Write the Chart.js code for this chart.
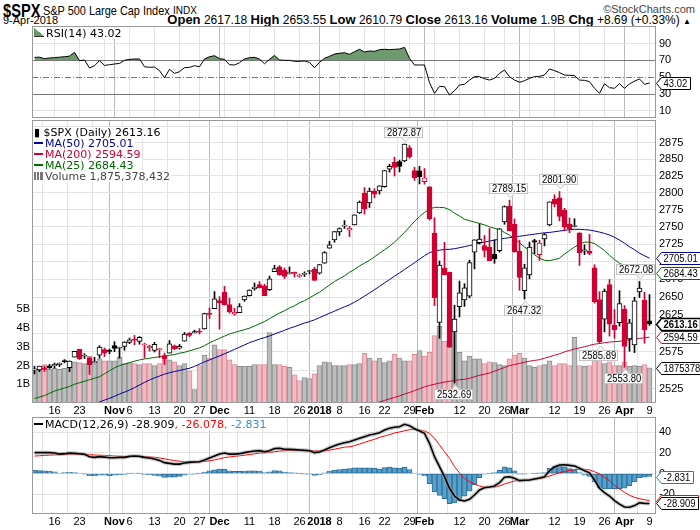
<!DOCTYPE html>
<html><head><meta charset="utf-8">
<script src="https://cdn.jsdelivr.net/npm/chart.js@4.4.1/dist/chart.umd.min.js"></script>
<style>
html,body{margin:0;padding:0;background:#fff;}
body{width:700px;height:530px;position:relative;overflow:hidden;font-family:"Liberation Sans",Arial,sans-serif;color:#000;}
.abs{position:absolute;white-space:nowrap;}
.leg{position:absolute;white-space:nowrap;font-family:"DejaVu Sans",Verdana,sans-serif;font-size:11px;line-height:11px;background:#fff;padding-right:1px;}
canvas{position:absolute;left:0;}
.dash{display:inline-block;width:9px;height:2px;vertical-align:middle;margin-right:2px;position:relative;top:-1px;}
</style></head>
<body>
<div class="abs" style="left:3px;top:0px;font:bold 19px 'Liberation Sans',Arial,sans-serif;transform:scaleX(0.77);transform-origin:left top;">$SPX</div>
<div class="abs" style="left:43px;top:3px;font-size:13px;transform:scaleX(0.84);transform-origin:left top;">S&amp;P 500 Large Cap Index</div>
<div class="abs" style="left:173px;top:5px;font-size:10px;">INDX</div>
<div class="abs" style="right:5px;top:3px;font-size:11px;color:#444;">©StockCharts.com</div>
<div class="abs" style="left:3px;top:14px;font-size:11px;">9-Apr-2018</div>
<div class="abs" style="right:9px;top:12px;font-size:12px;"><b style="font-size:13px">Open</b> 2617.18 <b style="font-size:13px">High</b> 2653.55 <b style="font-size:13px">Low</b> 2610.79 <b style="font-size:13px">Close</b> 2613.16 <b style="font-size:13px">Volume</b> 1.9B <b style="font-size:13px">Chg</b> +8.69 (+0.33%) <span style="font-size:8px">▲</span></div>

<canvas id="rsiC" width="700" height="96" style="top:24px"></canvas>
<canvas id="pxC" width="700" height="302" style="top:118px"></canvas>
<canvas id="mdC" width="700" height="115" style="top:415px"></canvas>

<div class="leg" style="left:34px;top:28px;"><span style="display:inline-block;width:10px;height:8px;background:linear-gradient(to top right,#6a9a6a 50%,transparent 51%);border-bottom:1px solid #333;margin-right:2px"></span>RSI(14) 43.02</div>

<div class="leg" style="left:34px;top:127px;">▮ $SPX (Daily) 2613.16</div>
<div class="leg" style="left:34px;top:138px;color:#000099"><span class="dash" style="background:#000099"></span>MA(50) 2705.01</div>
<div class="leg" style="left:34px;top:149px;color:#cc0033"><span class="dash" style="background:#cc0033"></span>MA(200) 2594.59</div>
<div class="leg" style="left:34px;top:160px;color:#006600"><span class="dash" style="background:#006600"></span>MA(25) 2684.43</div>
<div class="leg" style="left:34px;top:171px;color:#444"><span style="display:inline-block;width:9px;height:8px;background:linear-gradient(to right,#777 0 2px,transparent 2px 3px,#777 3px 5px,transparent 5px 6px,#777 6px 8px);margin-right:2px"></span>Volume 1,875,378,432</div>

<div class="leg" style="left:34px;top:419px;"><span class="dash" style="background:#000"></span>MACD(12,26,9) -28.909<span style="color:#ff0000">, -26.078</span><span style="color:#3a8fc8">, -2.831</span></div>

<script>
// ---------- DATA ----------
const prevClose0 = 2544.73;
const open = [2550.20,2550.34,2552.88,2555.66,2555.57,2557.17,2562.87,2553.39,2567.56,2578.08,
2568.66,2566.52,2560.08,2570.26,2577.75,2575.99,2583.21,2579.46,2581.93,2587.47,
2592.11,2588.71,2584.00,2580.18,2576.53,2577.75,2569.45,2572.95,2582.94,2579.49,
2589.17,2600.31,2600.42,2602.66,2605.94,2627.82,2633.93,2645.10,2657.19,2639.78,
2626.24,2628.38,2646.21,2652.19,2661.73,2667.59,2665.87,2660.63,2685.92,2692.71,
2688.18,2683.02,2684.22,2679.09,2682.10,2686.10,2689.15,2683.73,2697.85,2719.31,
2731.33,2742.67,2751.15,2745.55,2752.97,2770.18,2798.96,2784.99,2802.40,2802.60,
2809.16,2835.05,2845.42,2846.24,2847.48,2867.23,2832.74,2832.41,2816.45,2808.92,
2741.06,2614.78,2690.95,2685.01,2601.78,2636.75,2646.27,2651.21,2713.46,2727.14,
2722.99,2720.53,2710.42,2715.80,2757.37,2780.45,2753.78,2715.22,2658.89,2681.06,
2730.18,2710.18,2732.75,2752.91,2790.54,2792.31,2774.06,2754.27,2750.57,2741.38,
2715.05,2714.99,2691.36,2646.71,2619.35,2667.57,2611.30,2614.41,2633.45,2592.17,
2584.04,2657.36,2645.82,2617.18];
const high = [2555.20,2555.24,2555.33,2557.65,2559.47,2559.71,2564.11,2562.36,2575.44,2578.29,
2572.18,2567.40,2567.07,2582.98,2580.03,2578.29,2588.40,2581.11,2588.42,2593.38,
2597.02,2595.47,2586.50,2583.81,2587.66,2579.66,2572.84,2590.09,2583.96,2584.64,
2601.19,2600.94,2604.21,2606.41,2627.69,2634.89,2657.74,2650.62,2665.19,2648.72,
2634.41,2640.99,2651.65,2660.33,2669.72,2671.88,2668.09,2679.63,2694.97,2694.44,
2691.01,2692.64,2685.35,2682.74,2685.64,2687.66,2692.12,2695.89,2714.37,2729.29,
2743.45,2748.51,2759.14,2750.80,2767.56,2787.85,2807.54,2807.04,2805.83,2810.33,
2833.03,2842.24,2852.97,2848.56,2872.87,2870.62,2837.75,2839.26,2835.96,2808.92,
2763.39,2701.04,2727.67,2685.27,2638.67,2672.61,2668.84,2702.10,2731.51,2754.42,
2737.60,2747.75,2731.26,2747.76,2780.64,2789.15,2761.52,2730.89,2696.25,2728.09,
2732.08,2730.60,2740.45,2786.57,2796.98,2801.90,2777.11,2763.03,2761.85,2741.38,
2724.22,2739.14,2695.68,2657.67,2661.36,2674.78,2632.65,2659.07,2638.30,2619.14,
2649.86,2672.08,2656.88,2653.55];
const low = [2544.86,2547.95,2548.31,2552.09,2552.64,2554.69,2559.67,2547.92,2567.56,2564.33,
2565.58,2544.00,2559.80,2565.94,2568.25,2572.15,2574.92,2566.17,2576.77,2585.66,
2584.35,2585.02,2566.33,2575.57,2574.48,2566.56,2557.45,2572.95,2577.62,2578.24,
2589.17,2595.23,2600.42,2598.87,2605.44,2620.32,2633.93,2605.52,2639.03,2627.73,
2624.75,2628.38,2644.10,2651.47,2659.78,2662.85,2652.01,2659.14,2685.92,2680.74,
2676.11,2682.40,2678.13,2677.96,2678.91,2682.69,2673.61,2682.36,2697.77,2719.07,
2727.92,2737.60,2747.86,2736.06,2752.78,2769.64,2768.64,2778.38,2792.56,2798.08,
2808.12,2830.59,2824.81,2830.94,2846.18,2851.48,2818.27,2813.04,2812.70,2759.97,
2638.17,2593.07,2681.33,2580.56,2532.69,2622.45,2637.08,2648.87,2689.82,2725.11,
2706.76,2701.29,2697.77,2713.74,2753.78,2744.22,2713.54,2659.65,2647.32,2675.75,
2711.26,2701.74,2722.65,2751.54,2779.26,2758.68,2744.38,2741.47,2749.97,2694.59,
2710.05,2709.79,2641.59,2585.89,2601.81,2596.12,2593.06,2609.72,2553.80,2575.49,
2573.61,2649.58,2586.27,2610.79];
const close = [2550.64,2555.24,2550.93,2553.17,2557.64,2559.36,2561.26,2562.10,2575.21,2564.98,
2569.13,2557.15,2560.40,2581.07,2572.83,2575.26,2579.36,2579.85,2587.84,2591.13,
2590.64,2594.38,2584.62,2582.30,2584.84,2578.87,2564.62,2585.64,2578.85,2582.14,
2599.03,2597.08,2602.42,2601.42,2627.04,2626.07,2647.58,2642.22,2639.44,2629.57,
2629.27,2636.98,2651.50,2659.99,2664.11,2662.85,2652.01,2675.81,2690.16,2681.47,
2679.25,2684.57,2683.34,2680.50,2682.62,2687.54,2673.61,2695.81,2713.06,2723.99,
2743.15,2747.71,2751.29,2748.23,2767.56,2786.24,2776.42,2802.56,2798.03,2810.30,
2832.97,2839.13,2837.54,2839.25,2872.87,2853.53,2822.43,2823.81,2821.98,2762.13,
2648.94,2695.14,2681.66,2581.00,2619.55,2656.00,2662.94,2698.63,2731.20,2732.22,
2716.26,2701.33,2703.96,2747.30,2779.60,2744.28,2713.83,2677.67,2691.25,2720.94,
2728.12,2726.80,2738.97,2786.57,2783.02,2765.31,2749.48,2747.33,2752.01,2712.92,
2716.94,2711.93,2643.69,2588.26,2658.55,2612.62,2605.00,2640.87,2581.88,2614.45,
2644.69,2662.84,2604.47,2613.16];
const volume = [1.80e9,1.75e9,2.05e9,1.80e9,1.85e9,1.80e9,1.85e9,1.90e9,2.20e9,2.15e9,
2.10e9,2.50e9,2.10e9,2.35e9,2.25e9,2.25e9,2.25e9,2.45e9,2.10e9,2.15e9,
2.10e9,2.05e9,2.10e9,2.10e9,2.00e9,2.10e9,2.30e9,2.30e9,2.20e9,2.00e9,
2.10e9,1.70e9,0.72e9,2.00e9,2.55e9,2.40e9,3.10e9,2.85e9,2.85e9,2.30e9,
2.05e9,1.95e9,1.95e9,1.95e9,2.05e9,2.05e9,2.05e9,3.75e9,2.05e9,2.05e9,
1.95e9,1.90e9,1.50e9,1.20e9,1.35e9,1.30e9,1.55e9,2.00e9,2.20e9,2.15e9,
2.00e9,2.00e9,2.00e9,2.05e9,2.05e9,2.10e9,2.65e9,2.40e9,2.25e9,2.40e9,
2.15e9,2.25e9,2.60e9,2.40e9,2.25e9,2.25e9,2.60e9,2.80e9,2.50e9,2.70e9,
3.60e9,4.10e9,3.30e9,3.30e9,3.90e9,2.70e9,2.25e9,2.50e9,2.35e9,2.35e9,
2.10e9,2.20e9,2.15e9,2.05e9,2.00e9,2.35e9,2.55e9,2.65e9,2.40e9,2.00e9,
1.90e9,2.00e9,2.05e9,2.25e9,2.00e9,2.10e9,2.10e9,2.00e9,3.50e9,2.00e9,
1.95e9,2.00e9,2.40e9,2.30e9,2.10e9,2.20e9,2.00e9,2.00e9,2.20e9,1.95e9,
2.00e9,1.95e9,2.05e9,1875378432];
const ma50 = [null,null,null,null,null,null,null,null,null,null,
2500,2503,2505,2507.5,2510,2512.3,2515,2518,2520.5,2523.3,
2526.5,2530,2533.5,2536.7,2539.5,2542,2544.5,2546.5,2548,2549.5,
2551,2552.4,2555,2558,2561,2563.7,2566.5,2569,2572,2574.9,
2578,2581,2584,2587.2,2589.5,2592,2594,2596.3,2599,2601.5,
2604,2606.8,2609,2611.5,2614,2616,2618.5,2621.5,2624.5,2627.6,
2630.5,2633.5,2636.5,2639.3,2643,2647,2651.5,2655.8,2660.5,2665,
2670,2674.6,2679.5,2684,2689,2693.6,2698.5,2703.5,2708.5,2712.9,
2715,2716.5,2717.5,2717.7,2718.5,2720,2721.5,2723,2724.9,2726.5,
2728,2729.5,2731,2732.2,2733.5,2734.5,2735.5,2736.5,2737.5,2738.5,
2739.5,2740.5,2741.5,2742,2743,2744,2745,2746,2746.5,2746.5,
2746,2745.5,2744,2742.5,2740.5,2738.3,2735,2731,2726.5,2721.4,
2717,2712.1,2708.5,2705.01];
const ma200 = [null,null,null,null,null,null,null,null,null,null,
null,null,null,null,null,null,null,null,null,null,
null,null,null,null,null,null,null,null,null,null,
null,null,null,null,null,null,null,null,null,null,
null,null,null,null,null,null,null,null,null,null,
null,null,null,null,null,null,null,null,null,null,
null,null,null,null,null,null,null,2503,2505.5,2507.5,
2509.5,2511.5,2513.5,2515.5,2518,2520,2522.5,2525,2527.5,2529.5,
2531,2532.5,2534,2535,2536,2537,2537.6,2539,2541,2543,
2544.5,2546,2548.5,2551,2553.5,2556,2557.5,2559,2560.5,2562,
2563,2564,2566,2568,2570,2572,2574.5,2576.5,2578.5,2580,
2581.5,2583.5,2585,2586,2587,2588,2588.5,2589,2590,2591,
2592,2593,2593.8,2594.59];
const ma25 = [2512,2514,2516,2519,2522,2524,2526,2528,2531,2533,
2535,2537,2539,2541,2545,2549,2553,2556,2558,2560,
2562,2563.7,2565,2566,2567,2568,2569,2570,2571,2572.8,
2574,2576,2578,2580,2583,2587,2590,2593,2596,2599,
2601,2603,2605,2607,2610,2613,2616,2620,2624,2628,
2631,2635,2638,2642,2645,2649,2653,2657,2662,2667,
2672,2676,2680,2685,2689,2694,2698,2702,2707,2712,
2717,2722,2728,2735,2742,2750,2758,2765,2771,2776,
2778.5,2778.5,2778,2775,2770,2766,2761,2759,2757,2755,
2753,2750,2748,2746,2742,2738,2733,2727,2721,2716,
2710,2705,2702,2701.5,2703,2705,2711,2716,2721,2725,
2728,2728,2726,2721,2716,2709,2703,2698,2694,2691,
2688,2686,2685,2684.43];
const rsi = [73.5,73.8,72.0,72.8,73.2,73.8,74.3,75.0,79.5,69.6,
70.4,60.9,63.6,69.6,64.0,64.8,65.6,66.4,70.0,71.2,
71.6,71.6,62.4,61.7,62.0,57.7,49.4,59.3,54.5,56.5,
61.3,61.7,63.6,62.4,71.6,74.3,75.5,72.0,71.2,64.8,
64.5,67.2,71.6,73.2,73.6,71.6,66.0,71.2,75.9,70.4,
70.0,70.0,68.8,68.8,69.2,67.6,61.3,67.6,72.4,74.7,
77.5,78.3,79.1,77.1,80.3,83.1,79.9,81.1,80.7,82.7,
83.1,82.7,83.1,83.5,85.4,72.4,64.5,64.5,64.5,43.5,
30.8,39.0,38.7,28.8,33.9,40.7,41.5,46.6,50.6,50.6,
48.2,46.6,48.6,54.5,58.5,50.6,46.6,43.9,45.8,48.6,
50.6,51.0,52.6,59.7,57.7,55.4,52.6,52.2,51.8,46.6,
46.2,44.7,36.8,30.8,42.3,37.5,36.8,42.3,36.8,41.9,
45.4,47.8,41.5,43.02];
const macd = [20.3,20.3,20.3,20.3,19.9,18.9,19.3,19.9,19.6,19.3,
18.6,16.4,15.7,16.4,16.0,15.4,15.4,15.7,15.7,16.7,
17.0,16.7,15.7,15.1,14.1,12.8,10.6,9.9,9.2,9.2,
10.2,10.9,11.2,11.5,13.2,15.1,17.0,18.9,19.9,18.9,
18.9,19.3,20.3,21.2,21.9,22.2,21.2,22.2,24.2,24.5,
23.5,23.5,23.2,22.9,22.5,22.2,20.3,20.9,22.9,25.1,
27.0,28.6,29.9,30.9,32.5,34.2,35.7,37.4,38.4,39.6,
42.2,43.9,44.8,45.4,47.7,46.4,43.5,41.3,39.0,29.3,
16.4,6.7,-3.0,-14.2,-21.7,-25.5,-26.5,-24.9,-20.7,-15.9,
-13.6,-13.0,-12.0,-8.8,-3.6,-3.0,-4.6,-6.8,-6.5,-6.2,
-5.2,-4.2,-3.0,2.8,6.4,8.3,8.6,8.0,7.4,5.1,
2.8,0.8,-6.2,-14.2,-18.4,-21.7,-26.2,-29.5,-32.3,-32.6,
-31.0,-28.2,-28.8,-28.909];
const signal = [17.0,17.3,17.6,17.9,18.1,18.3,18.4,18.6,18.7,18.8,
18.9,18.4,18.0,17.8,17.6,17.4,17.0,16.8,16.6,16.6,
16.6,16.6,16.4,16.2,15.8,15.2,14.3,13.4,12.6,12.0,
11.6,11.5,11.4,11.4,11.8,12.4,13.3,14.4,15.5,16.1,
16.7,17.2,17.8,18.5,19.2,19.8,20.1,20.5,21.2,21.8,
22.1,22.4,22.5,22.6,22.6,22.5,22.1,21.9,22.1,22.7,
23.6,24.6,25.6,26.0,27.0,28.6,30.2,31.8,33.2,35.1,
36.4,37.7,39.3,40.3,41.5,42.5,42.9,42.2,41.3,39.0,
34.2,27.7,21.2,14.8,6.7,0.8,-4.6,-7.8,-10.1,-12.0,
-13.0,-13.3,-13.0,-12.0,-10.1,-8.5,-7.2,-6.5,-6.2,-6.2,
-5.5,-4.9,-3.9,-2.3,-0.7,0.8,2.1,3.1,3.8,4.2,
4.2,3.5,1.8,-0.4,-3.6,-6.8,-11.5,-14.8,-18.2,-21.0,
-23.0,-24.3,-25.3,-26.078];
const hist = [3.3,3.0,2.7,2.4,1.8,0.6,0.9,1.3,0.9,0.5,
-0.3,-2.0,-2.3,-1.4,-1.6,-2.0,-1.6,-1.1,-0.9,0.1,
0.4,0.1,-0.7,-1.1,-1.7,-2.4,-3.7,-3.5,-3.4,-2.8,
-1.4,-0.6,-0.2,0.1,1.4,2.7,3.7,4.5,4.4,2.8,
2.2,2.1,2.5,2.7,2.7,2.4,1.1,1.7,3.0,2.7,
1.4,1.1,0.7,0.3,-0.1,-0.3,-1.8,-1.0,0.8,2.4,
3.4,4.0,4.3,4.9,5.5,5.6,5.5,5.6,5.2,4.5,
5.8,6.2,5.5,5.1,6.2,3.9,0.6,-0.9,-2.3,-9.7,
-17.8,-21.0,-24.2,-29.0,-28.4,-26.3,-21.9,-17.1,-10.6,-3.9,
-0.6,0.3,1.0,3.2,6.5,5.5,2.6,-0.3,-0.3,0.0,
0.3,0.7,0.9,5.1,7.1,7.5,6.5,4.9,3.6,0.9,
-1.4,-2.7,-8.0,-13.8,-14.8,-14.9,-14.7,-14.7,-14.1,-11.6,
-8.0,-3.9,-3.5,-2.831];
// x-axis ticks (bar index) and their labels
const tickIdx = [4,9,14,16,19,24,29,33,37,38,43,48,53,57,61,66,70,75,78,80,85,90,94,97,99,104,109,114,118,123];
const tickLbl = ['16','23','','Nov','6','13','20','27','Dec','','11','18','26','2018','8','16','22','29','Feb','','12','20','26','Mar','','12','19','26','Apr','9'];
const monthIdx = [16,37,57,78,97,118];
const priceTicks = [2525,2550,2575,2600,2625,2650,2675,2700,2725,2750,2775,2800,2825,2850,2875,2900];
const volTicks = [1e9,2e9,3e9,4e9,5e9];
const rsiTicks = [10,30,50,70,90];
const macdTicks = [-20,0,20,40];
const highNotes = [74,95,105,121];
const lowNotes = [84,98,113,118];

// ---------- STYLE / HELPERS ----------
const SANS = '"Liberation Sans", Arial, sans-serif';
const RED = '#d20032', BLK = '#000';
const N = close.length;
const XMIN = -0.5, XMAX = 124.3;
const monthSet = new Set(monthIdx);
const xy = arr => arr.map((v, i) => ({x: i, y: v}));
const noPad = s => { s.paddingTop = 0; s.paddingBottom = 0; s.paddingLeft = 0; s.paddingRight = 0; };

function xAxis(showLabels, h) {
  return {
    type: 'linear', min: XMIN, max: XMAX, offset: false,
    afterBuildTicks: s => { s.ticks = tickIdx.map(v => ({value: v})); },
    afterFit: s => { s.height = h; noPad(s); },
    ticks: {
      display: showLabels, autoSkip: false, maxRotation: 0, minRotation: 0, padding: 1,
      color: '#000',
      callback: (v, i) => tickLbl[i],
      font: ctx => ({family: SANS, size: 11, weight: (ctx.tick && monthSet.has(ctx.tick.value)) ? 'bold' : 'normal'})
    },
    grid: {
      drawTicks: false, lineWidth: 1,
      color: ctx => (ctx.tick && monthSet.has(ctx.tick.value)) ? '#b9b9b9' : '#e3e3e3'
    },
    border: {display: false}
  };
}
function rightAxis(extra) {
  return Object.assign({
    position: 'right',
    afterFit: s => { s.width = 44; noPad(s); },
    ticks: {padding: 3, color: '#000', font: {family: SANS, size: 11}, autoSkip: false},
    grid: {drawTicks: false, color: '#e3e3e3'},
    border: {display: false}
  }, extra);
}
const framePlugin = {
  id: 'frame',
  afterDraw(chart) {
    const a = chart.chartArea, c = chart.ctx;
    c.save(); c.strokeStyle = '#9a9a9a'; c.lineWidth = 1;
    c.strokeRect(a.left + 0.5, a.top + 0.5, a.right - a.left - 1, a.bottom - a.top - 1);
    c.restore();
  }
};
const SX = 0.86;
function drawValueBox(c, x0, y, text, color, bold) {
  c.save();
  c.font = (bold ? 'bold ' : '') + '11px ' + SANS;
  const tw = c.measureText(text).width * SX;
  const h = 12, notch = 5, yc = Math.round(y) + 0.5;
  const w = Math.round(tw + 5);
  c.beginPath();
  c.moveTo(x0 + 0.5, yc);
  c.lineTo(x0 + notch + 0.5, yc - h / 2);
  c.lineTo(x0 + notch + w + 0.5, yc - h / 2);
  c.lineTo(x0 + notch + w + 0.5, yc + h / 2);
  c.lineTo(x0 + notch + 0.5, yc + h / 2);
  c.closePath();
  c.fillStyle = '#fff'; c.fill();
  c.lineWidth = bold ? 1.5 : 1; c.strokeStyle = color; c.stroke();
  c.fillStyle = '#000'; c.textBaseline = 'middle'; c.textAlign = 'left';
  c.translate(x0 + notch + 2.5, yc + 0.5);
  c.scale(SX, 1);
  c.fillText(text, 0, 0);
  c.restore();
}
function vboxPlugin(items) {
  return {
    id: 'vbox',
    afterDraw(chart) {
      const x0 = chart.chartArea.right;
      items.forEach(it => {
        const y = chart.scales[it.axis].getPixelForValue(it.value);
        drawValueBox(chart.ctx, x0, y, it.text, it.color, it.bold);
      });
    }
  };
}
function noteBox(c, cx, yPt, text, above) {
  c.save();
  c.font = '11px ' + SANS;
  const tw = c.measureText(text).width * SX;
  const w = Math.round(tw + 5), h = 11;
  let left = Math.round(cx - w / 2 - 1);
  if (left + w > 655) left = 655 - w;
  const top = above ? Math.round(yPt - 6 - h) : Math.round(yPt + 6);
  c.fillStyle = '#fafafa'; c.strokeStyle = '#c4c4c4'; c.lineWidth = 1;
  c.fillRect(left, top, w, h);
  c.strokeRect(left + 0.5, top + 0.5, w - 1, h - 1);
  const px = Math.round(cx) + 0.5;
  c.beginPath();
  if (above) { c.moveTo(px - 4, top + h - 0.5); c.lineTo(px, top + h + 4); c.lineTo(px + 4, top + h - 0.5); }
  else { c.moveTo(px - 4, top + 0.5); c.lineTo(px, top - 4); c.lineTo(px + 4, top + 0.5); }
  c.fillStyle = '#fafafa'; c.fill(); c.stroke();
  c.fillStyle = '#000'; c.textBaseline = 'middle'; c.textAlign = 'left';
  c.translate(left + 3, top + h / 2 + 0.5);
  c.scale(SX, 1);
  c.fillText(text, 0, 0);
  c.restore();
}
const notesPlugin = {
  id: 'notes',
  afterDraw(chart) {
    const xs = chart.scales.x, ys = chart.scales.y, c = chart.ctx;
    highNotes.forEach(i => noteBox(c, xs.getPixelForValue(i), ys.getPixelForValue(high[i]), high[i].toFixed(2), true));
    lowNotes.forEach(i => noteBox(c, xs.getPixelForValue(i), ys.getPixelForValue(low[i]), low[i].toFixed(2), false));
  }
};
const rsiLinesPlugin = {
  id: 'rsiLines',
  beforeDatasetsDraw(chart) {
    const a = chart.chartArea, ys = chart.scales.y, c = chart.ctx;
    c.save(); c.lineWidth = 1;
    [[70, []], [30, []], [50, [6, 2, 1, 2]]].forEach(([v, d]) => {
      const y = Math.round(ys.getPixelForValue(v)) + 0.5;
      c.strokeStyle = '#777'; c.setLineDash(d);
      c.beginPath(); c.moveTo(a.left, y); c.lineTo(a.right, y); c.stroke();
    });
    c.restore();
  }
};

// candle styling derived from the data
const candleColor = close.map((c, i) => c >= (i ? close[i - 1] : prevClose0) ? BLK : RED);
const candleFill = close.map((c, i) => c > open[i] ? '#ffffff' : candleColor[i]);
const volFill = candleColor.map(c => c === RED ? '#f0bcc4' : '#bdbdbd');
const volBorder = candleColor.map(c => c === RED ? '#dc8a98' : '#8e8e8e');

Chart.defaults.animation = false;
Chart.defaults.responsive = false;
Chart.defaults.plugins.legend.display = false;
Chart.defaults.plugins.tooltip.enabled = false;
Chart.defaults.font.family = SANS;

// ---------- RSI ----------
new Chart(document.getElementById('rsiC'), {
  type: 'line',
  data: {datasets: [{
    data: xy(rsi), borderColor: '#000', borderWidth: 1, pointRadius: 0, tension: 0,
    fill: {target: {value: 70}, above: '#6f9a6f', below: 'rgba(0,0,0,0)'}
  }]},
  options: {
    layout: {padding: {left: 32, top: 2, bottom: 2, right: 0}},
    scales: {
      x: xAxis(false, 0),
      y: rightAxis({min: 1.5, max: 110.8,
        afterBuildTicks: s => { s.ticks = rsiTicks.map(v => ({value: v})); },
        grid: {drawTicks: false, color: ctx => (ctx.tick && (ctx.tick.value === 90 || ctx.tick.value === 10)) ? '#e3e3e3' : 'rgba(0,0,0,0)'}
      })
    }
  },
  plugins: [rsiLinesPlugin, framePlugin, vboxPlugin([{axis: 'y', value: rsi[N - 1], text: rsi[N - 1].toFixed(2), color: '#000'}])]
});

// ---------- PRICE ----------
const candleWicks = low.map((l, i) => ({x: i, y: [l, high[i]]}));
const candleBodies = open.map((o, i) => ({x: i, y: [o, close[i]]}));
new Chart(document.getElementById('pxC'), {
  type: 'bar',
  data: {datasets: [
    {type: 'bar', data: candleBodies, yAxisID: 'y', barThickness: 5, minBarLength: 1, grouped: false,
     backgroundColor: candleFill, borderColor: candleColor, borderWidth: 1, borderSkipped: false, order: 0},
    {type: 'bar', data: candleWicks, yAxisID: 'y', barThickness: 1, grouped: false,
     backgroundColor: candleColor, borderWidth: 0, order: 1},
    {type: 'line', data: xy(ma25), yAxisID: 'y', borderColor: '#006600', borderWidth: 1, pointRadius: 0, order: 2},
    {type: 'line', data: xy(ma50), yAxisID: 'y', borderColor: '#000099', borderWidth: 1, pointRadius: 0, order: 3},
    {type: 'line', data: xy(ma200), yAxisID: 'y', borderColor: '#cc0033', borderWidth: 1, pointRadius: 0, order: 4},
    {type: 'bar', data: xy(volume), yAxisID: 'yv', barThickness: 5, grouped: false,
     backgroundColor: volFill, borderColor: volBorder, borderWidth: {left: 1, right: 1, top: 1, bottom: 0}, borderSkipped: 'start', order: 5}
  ]},
  options: {
    layout: {padding: {top: 2, bottom: 0, left: 0, right: 0}},
    scales: {
      x: xAxis(true, 17),
      y: rightAxis({type: 'logarithmic', min: 2506.1, max: 2909.5,
        afterBuildTicks: s => { s.ticks = priceTicks.map(v => ({value: v})); },
        ticks: {padding: 3, color: '#000', font: {family: SANS, size: 11}, autoSkip: false,
          callback: v => (v >= 2900 ? '' : String(v))}
      }),
      yv: {position: 'left', min: 0, max: 15.09e9,
        afterFit: s => { s.width = 32; noPad(s); },
        afterBuildTicks: s => { s.ticks = volTicks.map(v => ({value: v})); },
        ticks: {padding: 2, color: '#000', font: {family: SANS, size: 11}, autoSkip: false, callback: v => (v / 1e9) + 'B'},
        grid: {display: false, drawTicks: false}, border: {display: false}}
    }
  },
  plugins: [framePlugin, notesPlugin, vboxPlugin([
    {axis: 'y', value: ma50[N - 1], text: ma50[N - 1].toFixed(2), color: '#000099'},
    {axis: 'y', value: ma25[N - 1], text: ma25[N - 1].toFixed(2), color: '#006600'},
    {axis: 'yv', value: volume[N - 1], text: String(volume[N - 1]), color: '#000'},
    {axis: 'y', value: ma200[N - 1], text: ma200[N - 1].toFixed(2), color: '#cc0033'},
    {axis: 'y', value: close[N - 1], text: close[N - 1].toFixed(2), color: '#000', bold: true}
  ])]
});

// ---------- MACD ----------
new Chart(document.getElementById('mdC'), {
  type: 'bar',
  data: {datasets: [
    {type: 'line', data: xy(macd), borderColor: '#000', borderWidth: 1.6, pointRadius: 0, order: 0},
    {type: 'line', data: xy(macd), borderColor: 'rgba(160,160,160,0.55)', borderWidth: 4, pointRadius: 0, order: 1},
    {type: 'line', data: xy(signal), borderColor: '#ff0000', borderWidth: 1, pointRadius: 0, order: 2},
    {type: 'bar', data: xy(hist), barThickness: 5, grouped: false, backgroundColor: '#55a0cc', borderColor: '#2f6f99',
     borderWidth: 1, borderSkipped: false, order: 3}
  ]},
  options: {
    layout: {padding: {left: 32, top: 2, bottom: 0, right: 0}},
    scales: {
      x: xAxis(true, 16),
      y: rightAxis({min: -39.1, max: 54.8,
        afterBuildTicks: s => { s.ticks = macdTicks.map(v => ({value: v})); }})
    }
  },
  plugins: [framePlugin, vboxPlugin([
    {axis: 'y', value: hist[N - 1], text: hist[N - 1].toFixed(3), color: '#3a6fb0'},
    {axis: 'y', value: signal[N - 1], text: signal[N - 1].toFixed(3), color: '#ff0000'},
    {axis: 'y', value: macd[N - 1], text: macd[N - 1].toFixed(3), color: '#000'}
  ])]
});
</script>
</body></html>
